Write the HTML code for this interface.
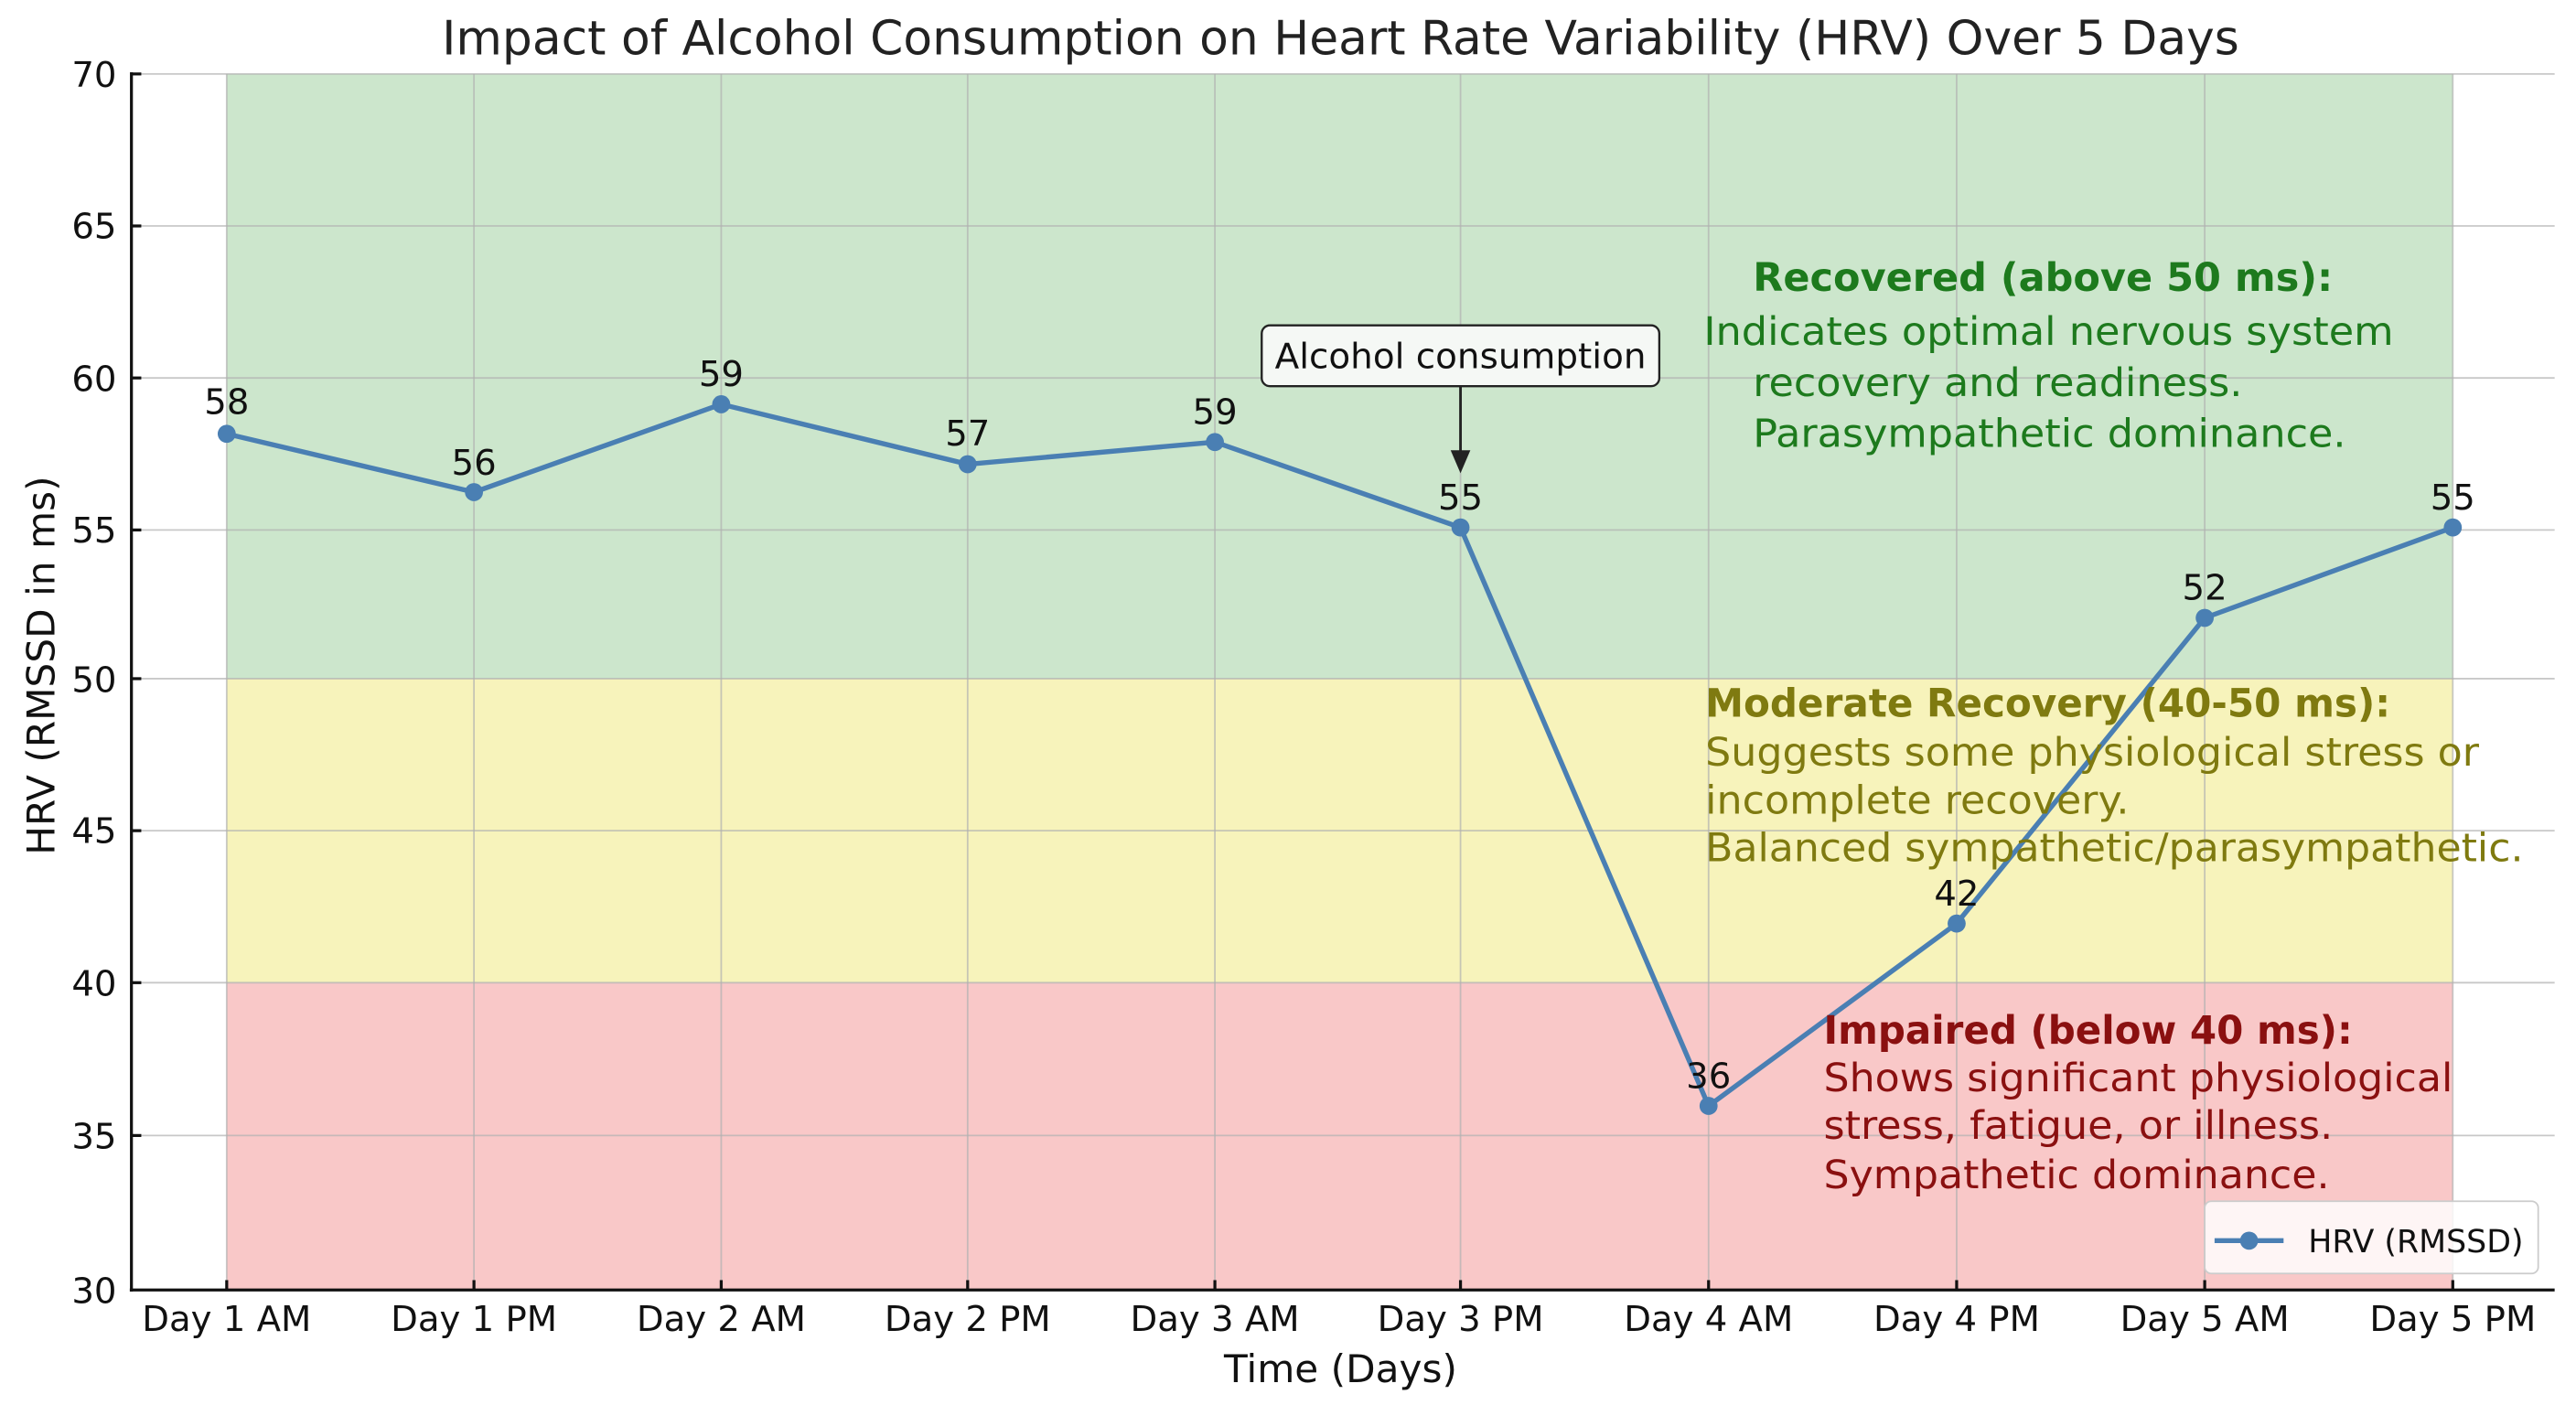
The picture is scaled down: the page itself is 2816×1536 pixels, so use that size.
<!DOCTYPE html>
<html><head><meta charset="utf-8"><style>
html,body{margin:0;padding:0;background:#fff;}
svg{display:block;}
text{font-family:"DejaVu Sans","Liberation Sans",sans-serif;}
</style></head><body>
<svg width="2816" height="1536" viewBox="0 0 1568 855" preserveAspectRatio="none" xmlns="http://www.w3.org/2000/svg">
<rect x="0" y="0" width="1568" height="855" fill="#fff"/>
<rect x="138" y="45" width="1355" height="368" fill="#cce6cc"/>
<rect x="138" y="413" width="1355" height="185" fill="#f7f3bb"/>
<rect x="138" y="598" width="1355" height="187" fill="#f9c8c8"/>
<g stroke="#b0b0b0" stroke-opacity="0.7" stroke-width="1">
<line x1="80" x2="1555" y1="45" y2="45"/>
<line x1="80" x2="1555" y1="137.5" y2="137.5"/>
<line x1="80" x2="1555" y1="230" y2="230"/>
<line x1="80" x2="1555" y1="322.5" y2="322.5"/>
<line x1="80" x2="1555" y1="413" y2="413"/>
<line x1="80" x2="1555" y1="505.5" y2="505.5"/>
<line x1="80" x2="1555" y1="598" y2="598"/>
<line x1="80" x2="1555" y1="691" y2="691"/>
<line y1="45" y2="785" x1="138" x2="138"/>
<line y1="45" y2="785" x1="288.5" x2="288.5"/>
<line y1="45" y2="785" x1="439" x2="439"/>
<line y1="45" y2="785" x1="589" x2="589"/>
<line y1="45" y2="785" x1="739.5" x2="739.5"/>
<line y1="45" y2="785" x1="889" x2="889"/>
<line y1="45" y2="785" x1="1040" x2="1040"/>
<line y1="45" y2="785" x1="1191" x2="1191"/>
<line y1="45" y2="785" x1="1342" x2="1342"/>
<line y1="45" y2="785" x1="1493" x2="1493"/>
</g>
<g stroke="#111" stroke-width="1.8">
<line x1="80" y1="44" x2="80" y2="786"/>
<line x1="79" y1="785" x2="1555" y2="785"/>
<line x1="80" x2="86" y1="45" y2="45"/><line x1="80" x2="86" y1="137.5" y2="137.5"/><line x1="80" x2="86" y1="230" y2="230"/><line x1="80" x2="86" y1="322.5" y2="322.5"/><line x1="80" x2="86" y1="413" y2="413"/><line x1="80" x2="86" y1="505.5" y2="505.5"/><line x1="80" x2="86" y1="598" y2="598"/><line x1="80" x2="86" y1="691" y2="691"/>
<line y1="779" y2="785" x1="138" x2="138"/><line y1="779" y2="785" x1="288.5" x2="288.5"/><line y1="779" y2="785" x1="439" x2="439"/><line y1="779" y2="785" x1="589" x2="589"/><line y1="779" y2="785" x1="739.5" x2="739.5"/><line y1="779" y2="785" x1="889" x2="889"/><line y1="779" y2="785" x1="1040" x2="1040"/><line y1="779" y2="785" x1="1191" x2="1191"/><line y1="779" y2="785" x1="1342" x2="1342"/><line y1="779" y2="785" x1="1493" x2="1493"/>
</g>
<g font-size="21.5" fill="#111" text-anchor="end">
<text x="71" y="53">70</text><text x="71" y="145">65</text><text x="71" y="238">60</text><text x="71" y="330">55</text><text x="71" y="421">50</text><text x="71" y="513">45</text><text x="71" y="606">40</text><text x="71" y="699">35</text><text x="71" y="793">30</text>
</g>
<g font-size="21.5" fill="#111" text-anchor="middle">
<text x="138" y="810">Day 1 AM</text><text x="288.5" y="810">Day 1 PM</text><text x="439" y="810">Day 2 AM</text><text x="589" y="810">Day 2 PM</text><text x="739.5" y="810">Day 3 AM</text><text x="889" y="810">Day 3 PM</text><text x="1040" y="810">Day 4 AM</text><text x="1191" y="810">Day 4 PM</text><text x="1342" y="810">Day 5 AM</text><text x="1493" y="810">Day 5 PM</text>
</g>
<text x="816" y="841" font-size="23.5" fill="#111" text-anchor="middle">Time (Days)</text>
<text transform="translate(33,405) rotate(-90)" font-size="23.5" fill="#111" text-anchor="middle">HRV (RMSSD in ms)</text>
<text x="816" y="33" font-size="29" fill="#222" text-anchor="middle" textLength="1094" lengthAdjust="spacingAndGlyphs">Impact of Alcohol Consumption on Heart Rate Variability (HRV) Over 5 Days</text>
<polyline fill="none" stroke="#4a7fb3" stroke-width="3" stroke-linejoin="round" points="138,264 288.5,299.5 439,246 589,282.5 739.5,269 889,321 1040,673 1191,562 1342,376 1493,321"/>
<g fill="#4a7fb3">
<circle cx="138" cy="264" r="5.5"/><circle cx="288.5" cy="299.5" r="5.5"/><circle cx="439" cy="246" r="5.5"/><circle cx="589" cy="282.5" r="5.5"/><circle cx="739.5" cy="269" r="5.5"/><circle cx="889" cy="321" r="5.5"/><circle cx="1040" cy="673" r="5.5"/><circle cx="1191" cy="562" r="5.5"/><circle cx="1342" cy="376" r="5.5"/><circle cx="1493" cy="321" r="5.5"/>
</g>
<g font-size="21.5" fill="#111" text-anchor="middle">
<text x="138" y="252">58</text><text x="288.5" y="289">56</text><text x="439" y="235">59</text><text x="589" y="271">57</text><text x="739.5" y="258">59</text><text x="889" y="310">55</text><text x="1040" y="662">36</text><text x="1191" y="551">42</text><text x="1342" y="365">52</text><text x="1493" y="310">55</text>
</g>
<rect x="768" y="198" width="242" height="37" rx="5" fill="#f5f8f5" stroke="#222" stroke-width="1.3"/>
<text x="889" y="224" font-size="21.5" fill="#111" text-anchor="middle" textLength="226" lengthAdjust="spacingAndGlyphs">Alcohol consumption</text>
<line x1="889" y1="235" x2="889" y2="276" stroke="#222" stroke-width="1.6"/>
<polygon points="883,274 895,274 889,288" fill="#222"/>
<g font-size="24" fill="#1d7a1d">
<text x="1067" y="177" font-weight="bold" textLength="353" lengthAdjust="spacingAndGlyphs">Recovered (above 50 ms):</text>
<text x="1037" y="210" textLength="420" lengthAdjust="spacingAndGlyphs">Indicates optimal nervous system</text>
<text x="1067" y="241" textLength="298" lengthAdjust="spacingAndGlyphs">recovery and readiness.</text>
<text x="1067" y="272" textLength="361" lengthAdjust="spacingAndGlyphs">Parasympathetic dominance.</text>
</g>
<g font-size="24" fill="#7f7a10">
<text x="1038" y="436" font-weight="bold" textLength="417" lengthAdjust="spacingAndGlyphs">Moderate Recovery (40-50 ms):</text>
<text x="1038" y="466" textLength="471" lengthAdjust="spacingAndGlyphs">Suggests some physiological stress or</text>
<text x="1038" y="495" textLength="258" lengthAdjust="spacingAndGlyphs">incomplete recovery.</text>
<text x="1038" y="524" textLength="498" lengthAdjust="spacingAndGlyphs">Balanced sympathetic/parasympathetic.</text>
</g>
<g font-size="24" fill="#8a1010">
<text x="1110" y="635" font-weight="bold" textLength="322" lengthAdjust="spacingAndGlyphs">Impaired (below 40 ms):</text>
<text x="1110" y="664" textLength="383" lengthAdjust="spacingAndGlyphs">Shows significant physiological</text>
<text x="1110" y="693" textLength="310" lengthAdjust="spacingAndGlyphs">stress, fatigue, or illness.</text>
<text x="1110" y="723" textLength="308" lengthAdjust="spacingAndGlyphs">Sympathetic dominance.</text>
</g>
<rect x="1342" y="731" width="203" height="44" rx="4" fill="#ffffff" fill-opacity="0.82" stroke="#cccccc" stroke-width="1"/>
<line x1="1348" y1="755" x2="1390" y2="755" stroke="#4a7fb3" stroke-width="3"/>
<circle cx="1369" cy="755" r="5.5" fill="#4a7fb3"/>
<text x="1405" y="762" font-size="19.5" fill="#111" textLength="131" lengthAdjust="spacingAndGlyphs">HRV (RMSSD)</text>
</svg>
</body></html>
